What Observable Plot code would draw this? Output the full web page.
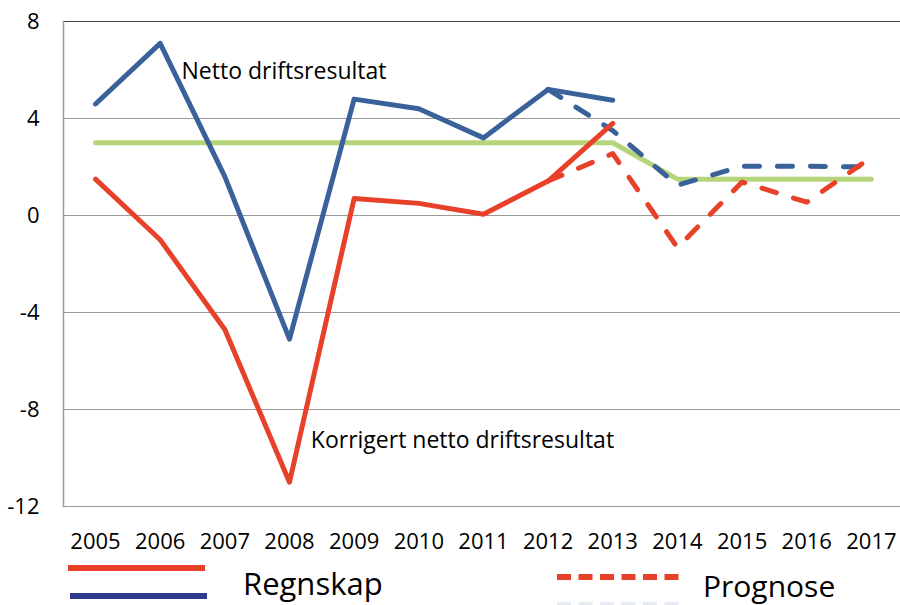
<!DOCTYPE html>
<html>
<head>
<meta charset="utf-8">
<script src="https://cdn.jsdelivr.net/npm/d3@7"></script>
<script src="https://cdn.jsdelivr.net/npm/@observablehq/plot@0.6"></script>
<style>
  html, body { margin: 0; padding: 0; background: #fff; }
  #wrap { position: relative; width: 900px; height: 605px; overflow: hidden; font-family: "Open Sans", sans-serif; }
  #legend { position: absolute; left: 0; top: 560px; }
</style>
</head>
<body>
<div id="wrap">
  <div id="chart"></div>
  <svg id="legend" width="900" height="45"></svg>
</div>
<script>
const years = [2005, 2006, 2007, 2008, 2009, 2010, 2011, 2012, 2013, 2014, 2015, 2016, 2017];
const nettoRegnskap   = [4.6, 7.1, 1.6, -5.1, 4.8, 4.4, 3.2, 5.2, 4.75, null, null, null, null];
const nettoPrognose   = [null, null, null, null, null, null, null, 5.2, 3.5, 1.25, 2.03, 2.03, 2.0];
const korrRegnskap    = [1.5, -1.0, -4.7, -11.0, 0.7, 0.5, 0.05, 1.42, 3.8, null, null, null, null];
const korrPrognose    = [null, null, null, null, null, null, null, 1.42, 2.55, -1.32, 1.38, 0.55, 2.4];
const maal            = [3.0, 3.0, 3.0, 3.0, 3.0, 3.0, 3.0, 3.0, 3.0, 1.5, 1.5, 1.5, 1.5];
const yTicks = [-12, -8, -4, 0, 4, 8];
const labelTexts = ["Netto driftsresultat", "Korrigert netto driftsresultat"];
const labelYears = [2006.33, 2008.33];
const labelValues = [5.95, -9.3];
const legendTexts = ["Regnskap", "Prognose"];

const toRows = (arr) => years.map((y, i) => ({year: y, v: arr[i]})).filter(d => d.v !== null);

const RED = "#E8412A", BLUE = "#3A629A", GREEN = "#B6D47A";
const lineOpts = {x: "year", y: "v", strokeWidth: 5, strokeLinecap: "round", strokeLinejoin: "round"};

const chart = Plot.plot({
  width: 900,
  height: 560,
  marginLeft: 63,
  marginRight: 0,
  marginTop: 21,
  marginBottom: 54,
  style: {fontFamily: "'Open Sans', sans-serif", fontSize: "22px", color: "#000", background: "#fff"},
  x: {type: "linear", domain: [2004.505, 2017.45], ticks: years, tickFormat: d => String(d), tickSize: 0, tickPadding: 27, label: null},
  y: {domain: [-12, 8], ticks: yTicks, tickFormat: d => String(d), tickSize: 0, tickPadding: 24, label: null},
  marks: [
    Plot.ruleY(yTicks.filter(t => t !== 8), {stroke: "#9a9a9a", strokeWidth: 1.2}),
    Plot.ruleY([8], {stroke: "#444", strokeWidth: 1.2}),
    Plot.frame({anchor: "left", stroke: "#9a9a9a", strokeWidth: 1.5}),
    Plot.line(toRows(maal), {...lineOpts, stroke: GREEN}),
    Plot.line(toRows(nettoPrognose), {...lineOpts, stroke: BLUE, strokeDasharray: "15 18"}),
    Plot.line(toRows(korrPrognose), {...lineOpts, stroke: RED, strokeDasharray: "15 18"}),
    Plot.line(toRows(nettoRegnskap), {...lineOpts, stroke: BLUE}),
    Plot.line(toRows(korrRegnskap), {...lineOpts, stroke: RED}),
    Plot.text(labelTexts.map((t, i) => ({t, x: labelYears[i], y: labelValues[i]})),
      {x: "x", y: "y", text: "t", textAnchor: "start", fontSize: 23, fill: "#000"})
  ]
});
document.getElementById("chart").appendChild(chart);

// legend below the chart
const lg = d3.select("#legend");
lg.append("line").attr("x1", 68).attr("x2", 205).attr("y1", 8).attr("y2", 8).attr("stroke", RED).attr("stroke-width", 6);
lg.append("line").attr("x1", 70).attr("x2", 207).attr("y1", 36).attr("y2", 36).attr("stroke", "#2E3B8C").attr("stroke-width", 6);
lg.append("text").attr("x", 243).attr("y", 35).attr("font-size", 31).attr("font-family", "'Open Sans', sans-serif").text(legendTexts[0]);
lg.append("line").attr("x1", 557).attr("x2", 685).attr("y1", 17).attr("y2", 17).attr("stroke", RED).attr("stroke-width", 6).attr("stroke-dasharray", "14 7.5");
lg.append("line").attr("x1", 557).attr("x2", 685).attr("y1", 45).attr("y2", 45).attr("stroke", "#E6EAF3").attr("stroke-width", 6).attr("stroke-dasharray", "14 7.5");
lg.append("text").attr("x", 703).attr("y", 37).attr("font-size", 30).attr("font-family", "'Open Sans', sans-serif").text(legendTexts[1]);
</script>
</body>
</html>
